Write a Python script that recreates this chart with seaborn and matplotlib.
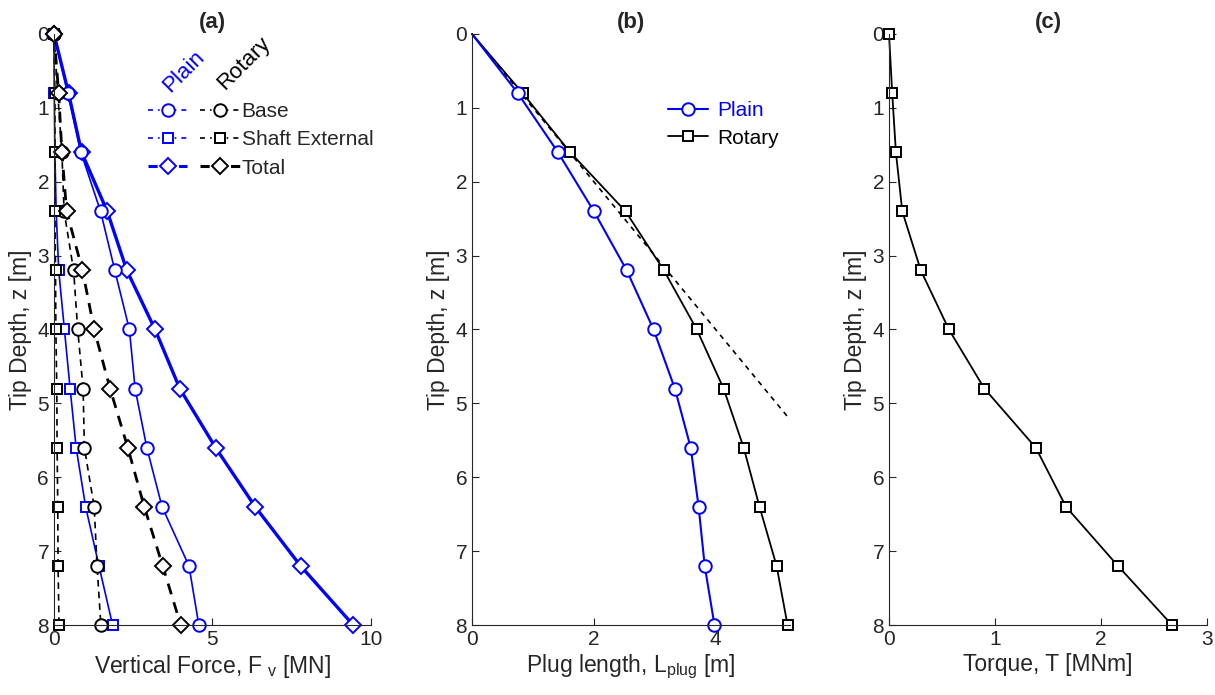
import numpy as np
import seaborn as sns
import matplotlib
matplotlib.use("Agg")
import matplotlib.pyplot as plt
from matplotlib.lines import Line2D
from matplotlib.legend_handler import HandlerTuple

# depths at which the markers sit (every 0.8 m)
depth = [0.0, 0.8, 1.6, 2.4, 3.2, 4.0, 4.8, 5.6, 6.4, 7.2, 8.0]

# (a) vertical force [MN]
plain_base = [0.0, 0.44, 0.85, 1.47, 1.92, 2.38, 2.56, 2.93, 3.41, 4.26, 4.57]
plain_shaft = [0.0, 0.01, 0.03, 0.07, 0.15, 0.33, 0.51, 0.70, 1.00, 1.42, 1.85]
plain_total = [0.0, 0.46, 0.87, 1.68, 2.30, 3.19, 3.97, 5.10, 6.35, 7.78, 9.44]
rot_base = [0.0, 0.12, 0.25, 0.32, 0.62, 0.75, 0.92, 0.96, 1.27, 1.36, 1.48]
rot_shaft = [0.0, 0.03, 0.03, 0.03, 0.05, 0.06, 0.09, 0.10, 0.12, 0.13, 0.16]
rot_total = [0.0, 0.15, 0.25, 0.40, 0.90, 1.27, 1.77, 2.33, 2.85, 3.43, 4.00]

# (b) plug length [m]
plug_plain = [0.0, 0.75, 1.41, 2.00, 2.54, 2.98, 3.33, 3.59, 3.72, 3.82, 3.98]
plug_rotary = [0.0, 0.83, 1.61, 2.52, 3.15, 3.69, 4.13, 4.46, 4.72, 5.00, 5.18]
full_plug = [0.0, 5.2]  # L_plug = z reference line

# (c) torque [MNm]
torque = [0.0, 0.03, 0.065, 0.125, 0.30, 0.565, 0.90, 1.385, 1.67, 2.16, 2.67]

sns.set_style("ticks")
plt.rcParams["font.family"] = ["Liberation Sans", "DejaVu Sans"]
plt.rcParams["mathtext.fontset"] = "custom"
plt.rcParams["mathtext.rm"] = "Liberation Sans"

GREY = "#262626"
BLUE = "#0000ff"

fig = plt.figure(figsize=(12.15, 6.95), dpi=100)
ax_a = fig.add_axes([0.0444, 0.1007, 0.2609, 0.8504])
ax_b = fig.add_axes([0.3885, 0.1007, 0.2617, 0.8504])
ax_c = fig.add_axes([0.7317, 0.1007, 0.2617, 0.8504])


def line(ax, x, y, color, ls, lw, marker, ms, every=None):
    sns.lineplot(x=x, y=y, ax=ax, sort=False, estimator=None, color=color,
                 linestyle=ls, linewidth=lw, marker=marker, markersize=ms,
                 markerfacecolor="white", markeredgecolor=color,
                 markeredgewidth=1.4, markevery=every, clip_on=False)


# panel (a)
line(ax_a, plain_total, depth, BLUE, "-", 2.4, "D", 8)
line(ax_a, plain_shaft, depth, BLUE, "-", 1.2, "s", 7)
line(ax_a, plain_base, depth, BLUE, "-", 1.2, "o", 9)
line(ax_a, rot_base, depth, "black", (0, (4, 3)), 1.2, "o", 9)
line(ax_a, rot_shaft, depth, "black", (0, (4, 3)), 1.2, "s", 7)
line(ax_a, rot_total, depth, "black", (0, (4, 3)), 2.0, "D", 8)


def proxy(color, marker, ms, lw):
    return Line2D([], [], color=color, ls=(0, (3, 3, 1, 3)), lw=lw, marker=marker,
                  ms=ms, mfc="white", mec=color, mew=1.4)


handles = [
    (proxy(BLUE, "o", 9, 1.2), proxy("black", "o", 9, 1.2)),
    (proxy(BLUE, "s", 7, 1.2), proxy("black", "s", 7, 1.2)),
    (proxy(BLUE, "D", 8, 2.2), proxy("black", "D", 8, 2.2)),
]
ax_a.legend(handles, ["Base", "Shaft External", "Total"],
            handler_map={tuple: HandlerTuple(ndivide=None, pad=0.6)},
            loc="upper left", bbox_to_anchor=(0.27, 0.899), frameon=False,
            fontsize=15, handlelength=4.4, handletextpad=0.1,
            labelspacing=0.45, borderaxespad=0)
ax_a.text(0.41, 0.936, "Plain", transform=ax_a.transAxes, rotation=45,
          color=BLUE, fontsize=16, ha="center", va="center")
ax_a.text(0.60, 0.95, "Rotary", transform=ax_a.transAxes, rotation=45,
          color="black", fontsize=16, ha="center", va="center")

# panel (b)
sns.lineplot(x=full_plug, y=full_plug, ax=ax_b, sort=False, estimator=None,
             color="black", linestyle=(0, (3, 3)), linewidth=1.2)
line(ax_b, plug_rotary, depth, "black", "-", 1.3, "s", 7, slice(1, None))
line(ax_b, plug_plain, depth, BLUE, "-", 1.5, "o", 9, slice(1, None))
hb = [Line2D([], [], color=BLUE, lw=1.5, marker="o", ms=9, mfc="white", mec=BLUE, mew=1.4),
      Line2D([], [], color="black", lw=1.3, marker="s", ms=7, mfc="white", mec="black", mew=1.4)]
ax_b.legend(hb, ["Plain", "Rotary"], loc="upper left", bbox_to_anchor=(0.59, 0.9),
            frameon=False, fontsize=15, labelcolor=[BLUE, "black"],
            handlelength=1.9, handletextpad=0.45, labelspacing=0.4, borderaxespad=0)

# panel (c)
line(ax_c, torque, depth, "black", "-", 1.3, "s", 7)

settings = [
    (ax_a, "(a)", r"Vertical Force, F$_\mathregular{\ v}$ [MN]", (0, 10), [0, 5, 10]),
    (ax_b, "(b)", r"Plug length, L$_\mathregular{plug}$ [m]", (0, 5.22), [0, 2, 4]),
    (ax_c, "(c)", "Torque, T [MNm]", (0, 3), [0, 1, 2, 3]),
]
for ax, title, xlabel, xlim, xticks in settings:
    ax.set_xlim(*xlim)
    ax.set_ylim(8, 0)
    ax.set_xticks(xticks)
    ax.set_yticks(range(0, 9))
    ax.set_title(title, fontsize=16, fontweight="bold", pad=4)
    ax.set_xlabel(xlabel, fontsize=16.5, color=GREY, labelpad=3)
    ax.set_ylabel("Tip Depth, z [m]", fontsize=16.5, color=GREY, labelpad=4)
    ax.tick_params(direction="in", labelsize=15, colors=GREY, length=5, width=0.8)
    for s in ("top", "right"):
        ax.spines[s].set_visible(False)
    for s in ("left", "bottom"):
        ax.spines[s].set_color(GREY)
        ax.spines[s].set_linewidth(0.8)
    ax.margins(0)

fig.savefig("out.png", dpi=100)
